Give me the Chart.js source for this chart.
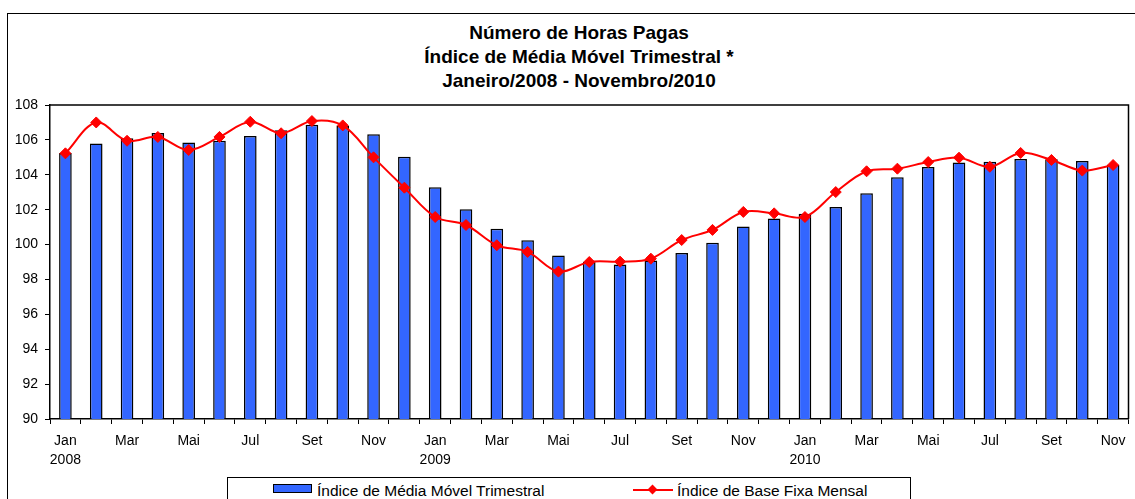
<!DOCTYPE html>
<html>
<head>
<meta charset="utf-8">
<script src="https://cdn.jsdelivr.net/npm/chart.js@4/dist/chart.umd.min.js"></script>
<style>
  body { margin:0; background:#fff; font-family:"Liberation Sans", Arial, sans-serif; }
  #wrap { position:relative; width:1135px; height:499px; overflow:hidden; background:#fff; }
  #moldura { position:absolute; left:7px; top:13px; width:1200px; height:600px; border:1.5px solid #000; }
  #grafico { position:absolute; left:0; top:0; }
  .titulo { position:absolute; left:329px; width:500px; text-align:center; font-weight:bold; font-size:19px; line-height:22px; color:#000; white-space:nowrap; }
  #legenda { position:absolute; left:227px; top:477px; width:682px; height:40px; border:1px solid #000; background:#fff; font-size:15.5px; }
  #legenda span { position:absolute; top:4px; white-space:nowrap; }
</style>
</head>
<body>
<div id="wrap">
  <div id="moldura"></div>
  <div class="titulo" style="top:22px">Número de Horas Pagas</div>
  <div class="titulo" style="top:46px">Índice de Média Móvel Trimestral *</div>
  <div class="titulo" style="top:70px">Janeiro/2008 - Novembro/2010</div>
  <canvas id="grafico" width="1135" height="499"></canvas>
  <div id="legenda">
    <div style="position:absolute;left:45px;top:6px;width:37px;height:7px;background:#3366FF;border:1.5px solid #000"></div>
    <span style="left:89px">Índice de Média Móvel Trimestral</span>
    <div style="position:absolute;left:405px;top:11px;width:40px;height:2px;background:#FF0000"></div>
    <div style="position:absolute;left:421px;top:8px;width:7px;height:7px;background:#FF0000;transform:rotate(45deg)"></div>
    <span style="left:449px">Índice de Base Fixa Mensal</span>
  </div>
</div>
<script>
// meses de jan/2008 a nov/2010
const meses = ['Jan','Fev','Mar','Abr','Mai','Jun','Jul','Ago','Set','Out','Nov','Dez',
               'Jan','Fev','Mar','Abr','Mai','Jun','Jul','Ago','Set','Out','Nov','Dez',
               'Jan','Fev','Mar','Abr','Mai','Jun','Jul','Ago','Set','Out','Nov'];
const anos = ['2008','','','','','','','','','','','',
              '2009','','','','','','','','','','','',
              '2010','','','','','','','','','',''];

const mediaMovel = [105.25,105.8,106.1,106.4,105.85,105.95,106.22,106.55,106.87,106.8,106.33,105.04,
                    103.28,102.02,100.91,100.24,99.37,99.02,98.85,99.08,99.52,100.11,101.03,101.5,
                    101.77,102.15,102.94,103.86,104.45,104.71,104.75,104.91,104.89,104.79,104.58];
const baseFixa = [105.23,107.0,105.95,106.17,105.42,106.17,107.04,106.38,107.08,106.83,105.0,103.26,
                  101.58,101.12,99.96,99.58,98.45,99.0,99.02,99.19,100.26,100.84,101.87,101.79,
                  101.58,103.01,104.2,104.35,104.73,104.98,104.46,105.25,104.85,104.24,104.56];

const nomesSeries = ['Índice de Média Móvel Trimestral','Índice de Base Fixa Mensal'];

// moldura da área de plotagem (topo e direita)
const molduraPlot = {
    id: 'molduraPlot',
    beforeDatasetsDraw(chart) {
        const a = chart.chartArea, ctx = chart.ctx;
        ctx.save();
        ctx.strokeStyle = '#000';
        ctx.lineWidth = 1.5;
        ctx.beginPath();
        ctx.moveTo(a.left, a.top);
        ctx.lineTo(a.right, a.top);
        ctx.lineTo(a.right, a.bottom);
        ctx.stroke();
        ctx.restore();
    }
};

new Chart(document.getElementById('grafico'), {
    type: 'bar',
    data: {
        labels: meses,
        datasets: [{
            type: 'line',
            label: nomesSeries[1],
            data: baseFixa,
            borderColor: '#FF0000',
            backgroundColor: '#FF0000',
            borderWidth: 2,
            tension: 0.35,
            pointStyle: 'rectRot',
            pointRadius: 5.5,
            pointBorderWidth: 1,
            order: 0
        }, {
            label: nomesSeries[0],
            data: mediaMovel,
            backgroundColor: '#3366FF',
            borderColor: '#000',
            borderWidth: 1.5,
            barPercentage: 0.41,
            categoryPercentage: 1,
            order: 1
        }]
    },
    options: {
        responsive: false,
        animation: false,
        layout: { padding: { top: 105, right: 4, left: 0, bottom: 0 } },
        plugins: {
            legend: { display: false },
            title: { display: false },
            tooltip: { enabled: false }
        },
        scales: {
            x: {
                afterFit: function(s) { s.height = 80; },
                grid: { offset: true, drawOnChartArea: false, color: '#000', tickLength: 5 },
                border: { color: '#000', width: 1.5 },
                ticks: {
                    autoSkip: false,
                    maxRotation: 0,
                    padding: 8,
                    color: '#000',
                    font: { family: 'Liberation Sans', size: 14, lineHeight: 1.36 },
                    callback: function(v, i) {
                        if (i % 2) return '';
                        return anos[i] ? [meses[i], anos[i]] : meses[i];
                    }
                }
            },
            y: {
                min: 90, max: 108,
                afterFit: function(s) { s.width = 50; },
                grid: { drawOnChartArea: false, color: '#000', tickLength: 5 },
                border: { color: '#000', width: 1.5 },
                ticks: {
                    stepSize: 2,
                    padding: 7,
                    color: '#000',
                    font: { family: 'Liberation Sans', size: 14 }
                }
            }
        }
    },
    plugins: [molduraPlot]
});
</script>
</body>
</html>
